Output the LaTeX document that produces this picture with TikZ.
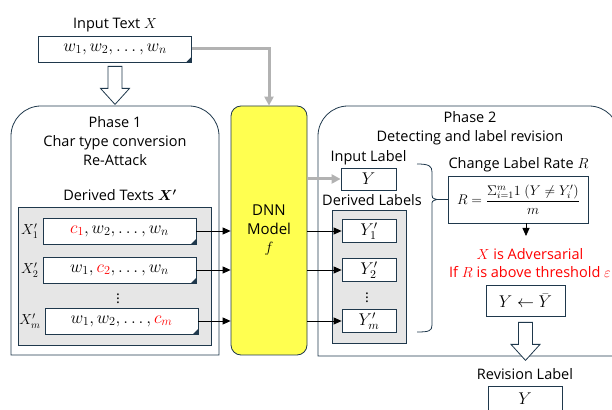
\RequirePackage{fix-cm}
\documentclass[tikz,border=0pt]{standalone}
\usepackage{amsmath}
\usepackage{amssymb}
\usepackage{fontspec}
\setmainfont{Open Sans}
\usetikzlibrary{positioning,arrows.meta}

\definecolor{edgec}{RGB}{31,56,76}
\definecolor{dnnyellow}{RGB}{255,255,80}
\definecolor{boxgray}{RGB}{230,230,230}
\definecolor{flowgray}{RGB}{178,178,178}
\definecolor{alertred}{RGB}{255,0,0}

\newcommand{\hollowdown}[1]{%
  \draw[hollow] (#1) ++(-7,0) -- ++(0,-22) -- ++(-7.5,0) -- ++(14.5,-16)
    -- ++(14.5,16) -- ++(-7.5,0) -- ++(0,22) -- cycle;}

\begin{document}
\begin{tikzpicture}[x=1pt,y=1pt,
    every node/.style={font=\fontsize{14.5}{19}\selectfont},
    txtbox/.style={draw=edgec, fill=white, line width=0.8, minimum width=153,
      minimum height=26, inner sep=0, font=\fontsize{17.5}{18}\selectfont,
      path picture={\fill[edgec] ([xshift=-5]path picture bounding box.south east)
        -- (path picture bounding box.south east)
        -- ([yshift=5]path picture bounding box.south east) -- cycle;}},
    lblbox/.style={draw=edgec, fill=white, line width=0.8, minimum width=54,
      minimum height=23, inner sep=0, font=\fontsize{17}{17}\selectfont},
    graybox/.style={draw=edgec, fill=boxgray, line width=0.8, inner sep=0},
    phase/.style={draw=edgec, line width=0.8},
    hollow/.style={draw=edgec, fill=white, line width=0.8},
    flow/.style={-{Triangle[length=8,width=7]}, line width=0.8},
    gflow/.style={-{Triangle[length=9,width=9]}, flowgray, line width=3},
  ]
  \useasboundingbox (0,0) rectangle (612,409);
  \clip (0,0) rectangle (612,409);

  % input text
  \node[txtbox] (input) at (115,360) {$w_1, w_2, \ldots, w_n$};
  \node[above=0pt of input] (intitle) {Input Text $X$};
  \coordinate (arrowA) at ([yshift=-4]input.south);
  \hollowdown{arrowA}

  % phase 1
  \draw[phase] (11,54) -- (11,273) arc[start angle=180,end angle=90,radius=30]
    -- (189,303) arc[start angle=90,end angle=0,radius=30] -- (219,54) -- cycle;
  \node[align=center] (p1title) at (115,268) {Phase 1\\Char type conversion\\Re-Attack};
  \node (dtitle) at (120,214) {Derived Texts $\boldsymbol{X'}$};
  \node[graybox, minimum width=193, minimum height=138] (dgray) at (114.5,133) {};
  \node[txtbox] (d1) at (119.5,178) {$\textcolor{alertred}{c_1}, w_2, \ldots, w_n$};
  \node[txtbox] (d2) at (119.5,139) {$w_1, \textcolor{alertred}{c_2}, \ldots, w_n$};
  \node[txtbox] (dm) at (121.5,88) {$w_1, w_2, \ldots, \textcolor{alertred}{c_m}$};
  \node[left=0.5pt of d1, font=\fontsize{14.5}{15}\selectfont] (x1) {$X_1'$};
  \node[left=0.5pt of d2, font=\fontsize{14.5}{15}\selectfont] (x2) {$X_2'$};
  \node[left=0.5pt of dm, font=\fontsize{14.5}{15}\selectfont] (xm) {$X_m'$};
  \node (ddots) at (118,113) {$\vdots$};

  % model
  \node[draw=edgec, fill=dnnyellow, line width=0.8, rounded corners=10,
    minimum width=76, minimum height=249, align=center,
    font=\fontsize{15}{18.5}\selectfont] (dnn) at (269,178.5) {DNN\\Model\\$f$};
  \draw[gflow] (input.east) -| (dnn.north);
  \draw[flow] (d1.east) -- (d1.east -| dnn.west);
  \draw[flow] (d2.east) -- (d2.east -| dnn.west);
  \draw[flow] (dm.east) -- (dm.east -| dnn.west);

  % phase 2
  \draw[phase] (318,53) -- (318,273) arc[start angle=180,end angle=90,radius=30]
    -- (589,303) arc[start angle=90,end angle=0,radius=30] -- (619,53) -- cycle;
  \node[align=center] (p2title) at (470,280.5) {Phase 2\\Detecting and label revision};
  \node[lblbox, minimum width=55, minimum height=22] (inlabel) at (368.5,230) {$Y$};
  \node[above=-1pt of inlabel] (inltitle) {Input Label};
  \node (dltitle) at (372,209) {Derived Labels};
  \node[graybox, minimum width=74, minimum height=133] (lgray) at (369,132.5) {};
  \node[lblbox] (y1) at (369,178) {$Y_1'$};
  \node[lblbox] (y2) at (369,139) {$Y_2'$};
  \node[lblbox] (ym) at (369,88) {$Y_m'$};
  \node (ldots) at (367,114) {$\vdots$};
  \draw[gflow] (dnn.east |- inlabel) -- (inlabel.west);
  \draw[flow] (dnn.east |- y1) -- (y1.west);
  \draw[flow] (dnn.east |- y2) -- (y2.west);
  \draw[flow] (dnn.east |- ym) -- (ym.west);

  % change rate
  \node[draw=edgec, line width=0.8, minimum width=140, minimum height=47,
    inner sep=0, font=\fontsize{14}{15}\selectfont] (rate) at (518.5,209.5)
    {$R = \dfrac{\Sigma_{i=1}^{m} 1\ (Y \neq Y_i')}{m}$};
  \node[above=0pt of rate] (ratetitle) {Change Label Rate $R$};
  \coordinate (bracetip) at (437,209.5);
  \draw[edgec, line width=0.8] (417,245) .. controls (429,245) and (432,243) .. (432,237)
    -- (432,214) .. controls (432,211) .. (bracetip)
    .. controls (432,208) .. (432,204)
    -- (432,84) .. controls (432,78) and (429,77) .. (417,77);
  \draw[edgec, line width=0.8] (bracetip) -- (rate.west);
  \coordinate (ratedown) at (526,173);
  \draw[flow] (rate.south -| ratedown) -- (ratedown);
  \node[align=center, text=alertred, font=\fontsize{14.5}{18}\selectfont] (advtext)
    at (530,146) {$X$ is Adversarial\\If $R$ is above threshold $\varepsilon$};
  \node[draw=edgec, line width=0.8, minimum width=79, minimum height=31,
    font=\fontsize{17}{17}\selectfont] (revise) at (525.5,108.5) {$Y \leftarrow \bar{Y}$};
  \coordinate (arrowB) at ([yshift=-6]revise.south);
  \hollowdown{arrowB}

  % revision label
  \node (revtitle) at (525,35) {Revision Label};
  \node[draw=edgec, line width=0.8, minimum width=74, minimum height=26,
    font=\fontsize{17}{17}\selectfont] (revlabel) at (525,10) {$Y$};
\end{tikzpicture}
\end{document}
